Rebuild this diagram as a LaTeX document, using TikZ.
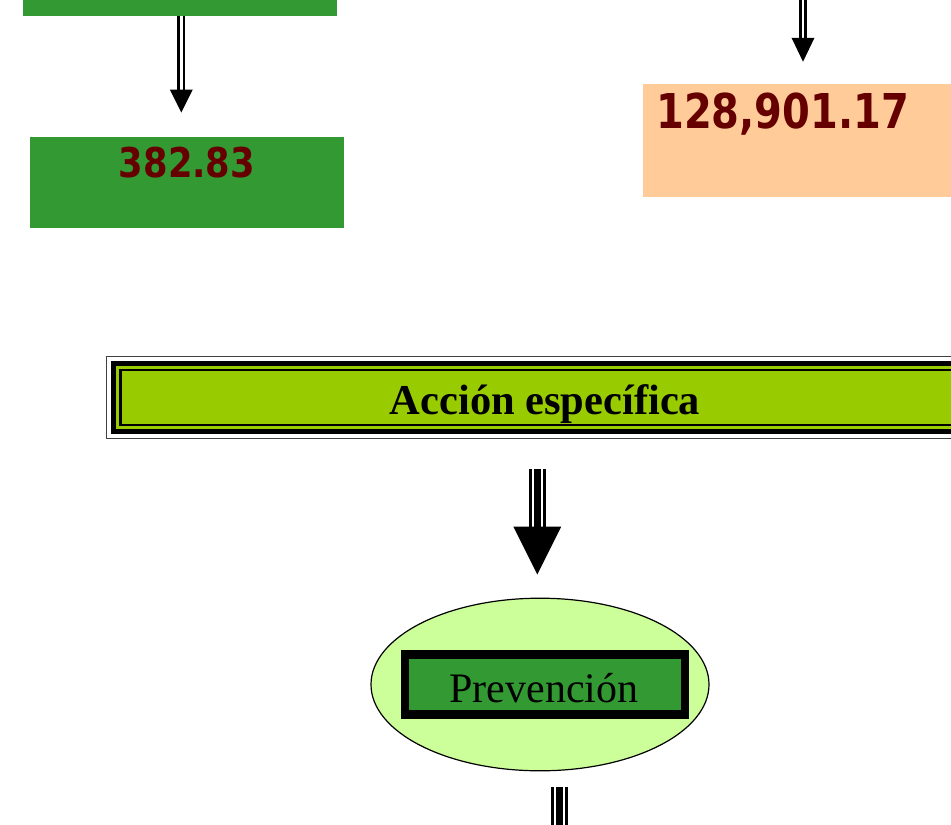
\documentclass[tikz,border=0pt]{standalone}
\usepackage{fontspec}
\setmainfont{Liberation Serif}
\newfontfamily\numfont{DejaVu Sans}
\usetikzlibrary{calc,shapes.geometric}
\definecolor{boxgreen}{RGB}{51,153,51}
\definecolor{peach}{RGB}{255,204,153}
\definecolor{lime}{RGB}{153,204,0}
\definecolor{pale}{RGB}{204,255,153}
\definecolor{numred}{RGB}{102,0,0}
\begin{document}
\begin{tikzpicture}[x=1pt,y=-1pt,
  plainbox/.style={rectangle, inner sep=0pt, draw=none},
  numtext/.style={text=numred, inner sep=0pt},
  dshaft/.style={draw=white, line width=2.6pt, preaction={draw=black, line width=7.9pt}},
  tshaft/.style={draw=white, line width=10.8pt, preaction={draw=black, line width=16.6pt}, postaction={draw=black, line width=7pt}},
  head/.style={fill=black}]
\useasboundingbox (0,0) rectangle (951,825);
\clip (0,0) rectangle (951,825);

% top-left green box (cut by the top edge)
\node[plainbox, fill=boxgreen, minimum width=314pt, minimum height=40pt] (top) at (180,-4.3) {};
% box 382.83
\node[plainbox, fill=boxgreen, minimum width=314pt, minimum height=91pt] (b1) at (187,182.3) {};
\node[numtext, anchor=base, font=\numfont\bfseries\fontsize{41}{41}\selectfont] (b1t) at (187,177) {\scalebox{0.86}[1]{382.83}};

% peach box
\node[plainbox, fill=peach, minimum width=320pt, minimum height=113.5pt] (pe) at (803,140.7) {};
\node[numtext, anchor=base west, font=\numfont\bfseries\fontsize{48}{48}\selectfont] (pet) at (656,128) {\scalebox{0.833}[1]{128,901.17}};

% arrow top-left box -> 382.83
\coordinate (lt) at ($(b1.north)+(-5.7,-24)$);
\draw[dshaft] (top.south -| lt) -- ($(lt)+(0,-21)$);
\fill[head] ($(lt)+(-11.5,-23)$) -- ($(lt)+(11.5,-23)$) -- (lt) -- cycle;

% arrow from above -> peach box
\coordinate (rt) at ($(pe.north)+(0,-22)$);
\coordinate (rs) at (803,-5);
\draw[dshaft] (rs) -- ($(rt)+(0,-21)$);
\fill[head] ($(rt)+(-11.5,-24)$) -- ($(rt)+(11.5,-24)$) -- (rt) -- cycle;

% Accion especifica banner
\node[draw=black, line width=5pt, fill=lime, minimum width=886.5pt, minimum height=68.5pt, inner sep=0pt] (acc) at (556.75,397.45) {};
\draw[line width=1.1pt, black!75] ($(acc.north west)+(-4.6,-4.3)$) rectangle ($(acc.south east)+(4.6,4.5)$);
\draw[line width=2.4pt] ($(acc.north west)+(9.5,9.3)$) rectangle ($(acc.south east)+(-9.5,-9.2)$);
\node[anchor=base, inner sep=0pt, font=\bfseries\fontsize{42.5}{42.5}\selectfont] (acct) at (545,414.3) {Acción específica};

% ellipse with Prevencion
\node[ellipse, draw=black, line width=1.2pt, fill=pale, minimum width=338pt, minimum height=172.6pt, inner sep=0pt] (el) at (540,684.5) {};
\node[draw=black, line width=8.5pt, fill=boxgreen, minimum width=280pt, minimum height=60pt, inner sep=0pt] (pr) at (545,684.5) {};
\node[anchor=base, inner sep=0pt, font=\fontsize{42}{42}\selectfont] (prt) at (544,702) {Prevención};

% big arrow banner -> ellipse
\coordinate (bt) at ($(el.north)+(-2.7,-23)$);
\draw[tshaft] ($(acc.south -| bt)+(0,34.8)$) -- ($(bt)+(0,-46)$);
\fill[head] ($(bt)+(-24,-48)$) -- ($(bt)+(24,-48)$) -- (bt) -- cycle;

% shaft leaving the ellipse downwards
\coordinate (bend) at (559.7,835);
\draw[tshaft] ($(el.south -| bend)+(0,15.3)$) -- (bend);
\end{tikzpicture}
\end{document}
